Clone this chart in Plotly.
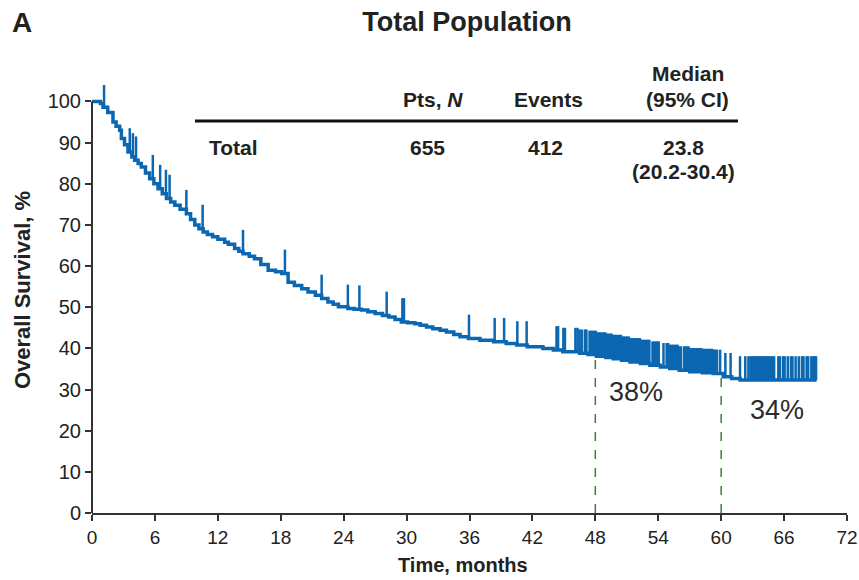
import numpy as np
import plotly.graph_objects as go

# ---------------- data ----------------
km_time = [0, 0.8, 1.05, 1.5, 2.0, 2.3, 2.64, 2.8, 3.1, 3.43, 3.8, 4.07, 4.4, 4.7, 5.1, 5.5,
           5.9, 6.3, 6.7, 7.1, 7.5, 7.9, 8.4, 9.0, 9.4, 9.8, 10.2, 10.6, 11.0, 11.5, 12.0,
           12.65, 13.0, 13.6, 14.0, 14.4, 15.0, 15.5, 16.1, 16.8, 17.5, 18.1, 18.7, 19.3,
           20.0, 20.6, 21.3, 21.9, 22.5, 23.0, 23.5, 24.4, 25.0, 25.7, 26.3, 27.0, 27.7,
           28.3, 28.9, 29.5, 30.1, 30.8, 31.3, 31.9, 32.5, 33.2, 33.8, 34.5, 35.1, 35.9,
           37.0, 38.3, 39.5, 40.5, 41.5, 43.0, 44.0, 44.9, 46.5, 47.3, 48.1, 49.0, 49.7,
           50.5, 51.3, 52.3, 53.2, 54.2, 55.1, 56.0, 57.0, 58.2, 59.25, 60.2, 61.0, 61.8, 69.1]
km_surv = [100, 99.5, 98.6, 97.3, 95.0, 94.0, 93.0, 91.0, 89.5, 87.7, 86.5, 85.7, 84.9, 84.1,
           82.6, 81.2, 80.0, 78.8, 77.6, 76.4, 75.6, 74.8, 73.8, 72.7, 71.3, 70.0, 69.1, 68.3,
           67.7, 67.1, 66.5, 65.8, 65.3, 64.3, 63.6, 63.0, 62.4, 61.8, 60.4, 59.0, 58.6, 58.2,
           56.1, 55.3, 54.5, 53.7, 52.9, 52.1, 51.3, 50.7, 50.1, 49.7, 49.5, 49.3, 48.9, 48.5,
           48.0, 47.6, 47.0, 46.4, 46.2, 46.0, 45.6, 45.2, 44.8, 44.4, 44.0, 43.4, 42.8, 42.4,
           42.0, 41.6, 41.2, 40.8, 40.4, 40.0, 39.6, 39.2, 38.8, 38.5, 38.1, 37.8, 37.5, 37.1,
           36.7, 36.3, 35.9, 35.5, 35.1, 34.7, 34.3, 34.1, 33.9, 33.1, 32.7, 32.3, 32.3]

censor_times = [
    1.15, 3.6, 3.9, 4.2, 5.8, 6.5, 7.05, 7.4, 9.0, 10.55, 14.4, 18.4, 21.9, 24.4, 25.5, 28.1,
    29.6, 29.75, 35.95, 38.4, 39.3, 40.56, 41.45, 44.3, 44.45, 44.95, 45.1, 46.1, 46.3, 46.5,
    46.7, 47.0, 47.15, 47.45, 47.6, 47.75, 47.9, 48.05, 48.2, 48.35, 48.5, 48.65, 48.8, 48.95,
    49.1, 49.25, 49.4, 49.55, 49.7, 49.85, 50.0, 50.15, 50.3, 50.45, 50.6, 50.75, 50.9, 51.05,
    51.2, 51.35, 51.5, 51.65, 51.8, 51.95, 52.1, 52.25, 52.4, 52.55, 52.7, 52.85, 53.0, 53.15,
    53.45, 53.6, 53.75, 53.9, 54.05, 54.5, 54.8, 54.95, 55.1, 55.25, 55.4, 55.55, 55.7, 55.85,
    56.0, 56.15, 56.45, 56.6, 56.75, 56.9, 57.05, 57.2, 57.35, 57.5, 57.65, 57.8, 57.95, 58.1,
    58.25, 58.4, 58.55, 58.7, 58.85, 59.0, 59.15, 59.3, 59.45, 59.6,
    59.9, 60.4, 60.9, 61.8, 62.3, 62.6, 62.8, 62.95, 63.1, 63.25, 63.4, 63.55, 63.7, 63.85,
    64.0, 64.15, 64.3, 64.45, 64.6, 64.75, 64.9, 65.05, 65.45, 65.6, 65.9, 66.05, 66.35,
    66.65, 66.8, 67.1, 67.4, 67.7, 67.85, 68.15, 68.3, 68.6, 68.75, 68.9, 69.05]

milestone_times = [48, 60]
milestone_labels = ["38%", "34%"]

x_ticks = list(range(0, 73, 6))
y_ticks = list(range(0, 101, 10))

table_header = ["Pts, <i>N</i>", "Events", "Median", "(95% CI)"]
table_group = "Total"
table_n = "655"
table_events = "412"
table_median = "23.8"
table_ci = "(20.2-30.4)"

# ---------------- helpers ----------------
BLUE = "#0b67b2"
GREEN = "#3f7f3a"
TXT = "#222222"
FONT = "Arial, Liberation Sans, sans-serif"
YMAX = 104
kt = np.array(km_time)
ks = np.array(km_surv)


def surv_at(t):
    i = np.searchsorted(kt, t, side="right") - 1
    return float(ks[max(i, 0)])


TICK_H = 5.8
cx, cy = [], []
for t in censor_times:
    s = surv_at(t)
    cx += [t, t, None]
    cy += [s, s + TICK_H, None]

fig = go.Figure()

for t in milestone_times:
    fig.add_trace(go.Scatter(x=[t, t], y=[0, surv_at(t)], mode="lines",
                             line=dict(color=GREEN, width=1.5, dash="dash"),
                             hoverinfo="skip", showlegend=False))

fig.add_trace(go.Scatter(x=km_time, y=km_surv, mode="lines", line_shape="hv",
                         line=dict(color=BLUE, width=3.5), showlegend=False))
fig.add_trace(go.Scatter(x=cx, y=cy, mode="lines", line=dict(color=BLUE, width=2.5),
                         showlegend=False, hoverinfo="skip"))

ann = []
label_pos = [(51.9, 29.4), (65.3, 25.0)]
for lab, (lx, ly) in zip(milestone_labels, label_pos):
    ann.append(dict(x=lx, y=ly, xref="x", yref="y", text=lab, showarrow=False,
                    font=dict(family=FONT, size=27, color="#2b2b2b")))

tb = dict(family=FONT, size=21, color=TXT)


def pa(text, x, y, xanchor="center", font=tb, **kw):
    return dict(x=x, y=y, xref="paper", yref="paper", text=text, showarrow=False,
                xanchor=xanchor, yanchor="middle", font=font, **kw)


ann += [
    pa("<b>" + table_header[0] + "</b>", 0.4517, 0.965),
    pa("<b>" + table_header[1] + "</b>", 0.604, 0.965),
    pa("<b>" + table_header[2] + "</b>", 0.789, 1.028),
    pa("<b>" + table_header[3] + "</b>", 0.789, 0.965),
    pa("<b>" + table_group + "</b>", 0.1523, 0.853, xanchor="left"),
    pa("<b>" + table_n + "</b>", 0.445, 0.853),
    pa("<b>" + table_events + "</b>", 0.600, 0.853),
    pa("<b>" + table_median + "</b>", 0.783, 0.853),
    pa("<b>" + table_ci + "</b>", 0.783, 0.797),
    pa("<b>A</b>", -0.0927, 1.147, font=dict(family=FONT, size=28, color=TXT)),
    pa("<b>Time, months</b>", 0.491, -0.1215, font=dict(family=FONT, size=20, color=TXT)),
    pa("<b>Overall Survival, %</b>", -0.0927, 0.521, font=dict(family=FONT, size=22, color=TXT),
       textangle=-90),
]

# table rule
fig.add_shape(type="line", x0=0.1364, x1=0.8556, y0=0.916, y1=0.916, xref="paper", yref="paper",
              line=dict(color="#111111", width=3))
# y axis line from 0 to 100
fig.add_shape(type="line", x0=0, x1=0, y0=0, y1=100 / YMAX, xref="paper", yref="paper",
              line=dict(color="#333333", width=2))

fig.update_layout(
    width=859, height=580,
    margin=dict(l=92, r=12, t=85, b=67, autoexpand=False),
    paper_bgcolor="white", plot_bgcolor="white",
    title=dict(text="<b>Total Population</b>", x=0.5437, xanchor="center", xref="container",
               y=0.962, yanchor="middle", yref="container",
               font=dict(family=FONT, size=27, color=TXT)),
    annotations=ann,
    font=dict(family=FONT, color=TXT),
)
fig.update_xaxes(range=[0, 72], tickvals=x_ticks, ticktext=[str(v) for v in x_ticks],
                 automargin=False,
                 showgrid=False, zeroline=False, showline=True, linecolor="#333333", linewidth=2,
                 ticks="outside", ticklen=6, tickwidth=2, tickcolor="#333333",
                 tickfont=dict(family=FONT, size=19, color=TXT))
fig.update_yaxes(range=[0, YMAX], tickvals=y_ticks, ticktext=[str(v) for v in y_ticks],
                 automargin=False,
                 showgrid=False, zeroline=False, showline=False,
                 ticks="outside", ticklen=6, tickwidth=2, tickcolor="#333333",
                 tickfont=dict(family=FONT, size=20, color=TXT))

fig.write_html("out.html")
